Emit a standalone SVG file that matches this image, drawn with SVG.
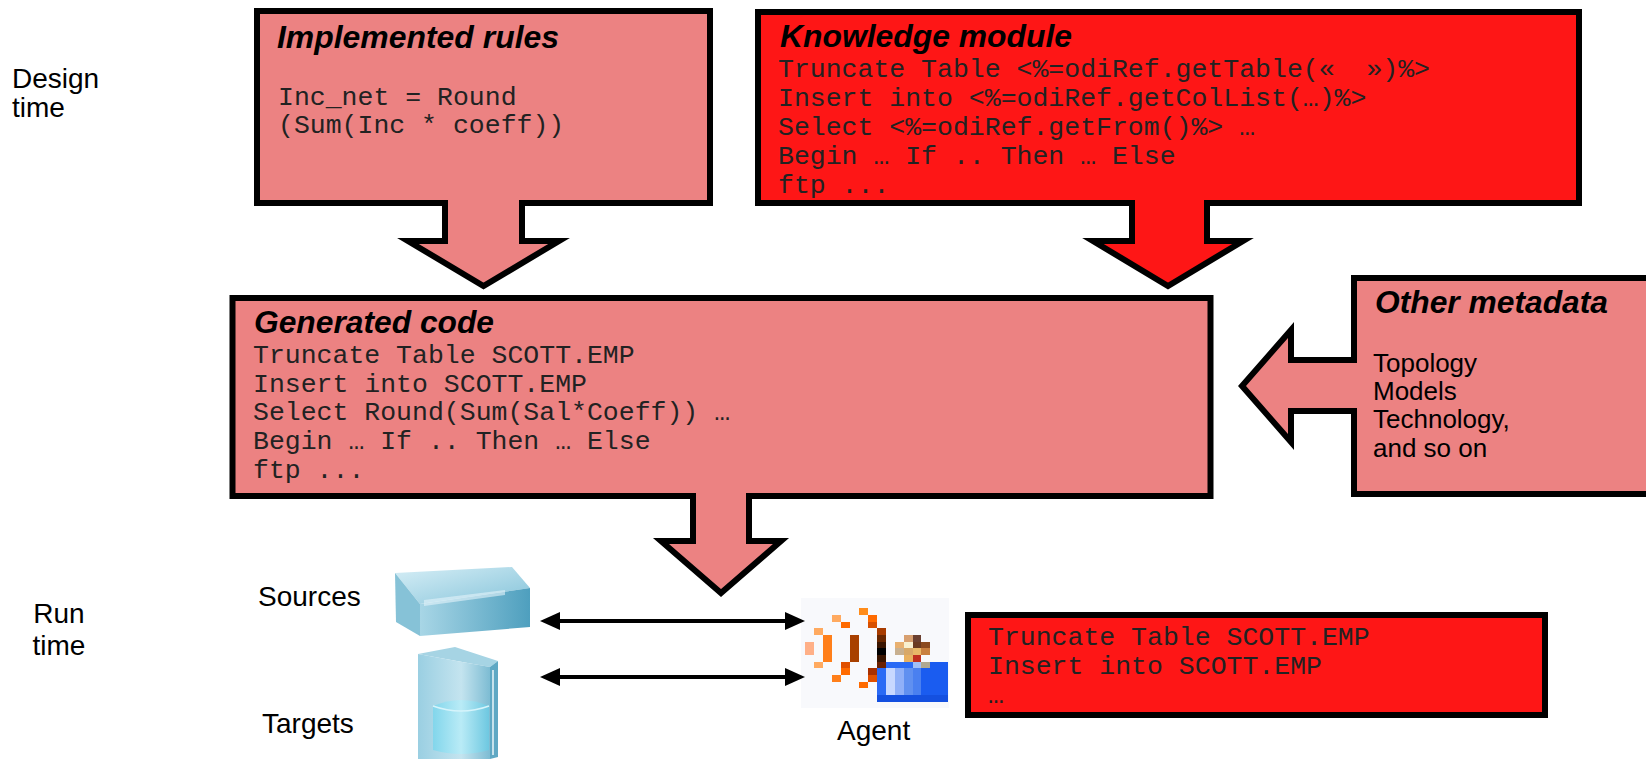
<svg xmlns="http://www.w3.org/2000/svg" width="1646" height="760" viewBox="0 0 1646 760">
  <defs>
    <style>
      .salmon { fill: #EC8282; stroke: #000; stroke-width: 6; stroke-linejoin: miter; stroke-miterlimit: 10; }
      .red { fill: #FE1616; stroke: #000; stroke-width: 6; stroke-linejoin: miter; stroke-miterlimit: 10; }
      .title { font-family: "Liberation Sans", Arial, sans-serif; font-weight: bold; font-style: italic; font-size: 31px; fill: #000; }
      .code { font-family: "Liberation Mono", "Courier New", monospace; font-size: 26.5px; fill: #222; white-space: pre; }
      .label { font-family: "Liberation Sans", Arial, sans-serif; font-size: 28px; fill: #000; }
      .body { font-family: "Liberation Sans", Arial, sans-serif; font-size: 26px; fill: #000; }
      .link { stroke: #000; stroke-width: 4; fill: none; marker-start: url(#head); marker-end: url(#head); }
    </style>
    <marker id="head" viewBox="0 0 20 18" refX="5" refY="9" markerWidth="20" markerHeight="18" markerUnits="userSpaceOnUse" orient="auto-start-reverse">
      <path d="M0,0 L20,9 L0,18 Z" fill="#000"/>
    </marker>
    <linearGradient id="slabTop" x1="0" y1="0" x2="1" y2="1">
      <stop offset="0" stop-color="#D6EEF6"/>
      <stop offset="1" stop-color="#86C4DA"/>
    </linearGradient>
    <linearGradient id="slabFront" x1="0" y1="0" x2="1" y2="0">
      <stop offset="0" stop-color="#A8D6E6"/>
      <stop offset="1" stop-color="#4E9FBE"/>
    </linearGradient>
    <linearGradient id="towerFront" x1="0" y1="0" x2="1" y2="0">
      <stop offset="0" stop-color="#9ACFE2"/>
      <stop offset="0.6" stop-color="#C4E4EF"/>
      <stop offset="1" stop-color="#7DBCD3"/>
    </linearGradient>
    <linearGradient id="drum" x1="0" y1="0" x2="1" y2="0">
      <stop offset="0" stop-color="#7ED6EC"/>
      <stop offset="0.5" stop-color="#B8ECF7"/>
      <stop offset="1" stop-color="#6CC9E2"/>
    </linearGradient>
  </defs>

  <rect width="1646" height="760" fill="#fff"/>

  <!-- side labels -->
  <g id="design-time">
    <text class="label" x="12" y="88">Design</text>
    <text class="label" x="12" y="117">time</text>
  </g>
  <g id="run-time">
    <text class="label" x="59" y="623" text-anchor="middle">Run</text>
    <text class="label" x="59" y="655" text-anchor="middle">time</text>
  </g>

  <!-- implemented rules: callout with down arrow -->
  <g id="implemented-rules">
    <path class="salmon" d="M257,11 H710 V203 H522 V241 H559 L483.5,286 L408,241 H445 V203 H257 Z"/>
    <text class="title" x="277" y="48" textLength="282" lengthAdjust="spacingAndGlyphs">Implemented rules</text>
    <text class="code" x="278" y="105">Inc_net = Round</text>
    <text class="code" x="278" y="133">(Sum(Inc * coeff))</text>
  </g>

  <!-- knowledge module: callout with down arrow -->
  <g id="knowledge-module">
    <path class="red" d="M758,12 H1579 V203 H1207 V241 H1243 L1168,286 L1093,241 H1132 V203 H758 Z"/>
    <text class="title" x="780" y="47" textLength="292" lengthAdjust="spacingAndGlyphs">Knowledge module</text>
    <text class="code" x="778" y="77">Truncate Table &lt;%=odiRef.getTable(«  »)%&gt;</text>
    <text class="code" x="778" y="106">Insert into &lt;%=odiRef.getColList(…)%&gt;</text>
    <text class="code" x="778" y="135">Select &lt;%=odiRef.getFrom()%&gt; …</text>
    <text class="code" x="778" y="164">Begin … If .. Then … Else</text>
    <text class="code" x="778" y="193">ftp ...</text>
  </g>

  <!-- generated code: callout with down arrow -->
  <g id="generated-code">
    <path class="salmon" d="M232.5,298 H1210.5 V496 H749 V541 H781 L721,593 L661,541 H693 V496 H232.5 Z"/>
    <text class="title" x="254" y="333" textLength="240" lengthAdjust="spacingAndGlyphs">Generated code</text>
    <text class="code" x="253" y="363">Truncate Table SCOTT.EMP</text>
    <text class="code" x="253" y="392">Insert into SCOTT.EMP</text>
    <text class="code" x="253" y="420">Select Round(Sum(Sal*Coeff)) …</text>
    <text class="code" x="253" y="449">Begin … If .. Then … Else</text>
    <text class="code" x="253" y="478">ftp ...</text>
  </g>

  <!-- other metadata: callout with left arrow -->
  <g id="other-metadata">
    <path class="salmon" d="M1354,278 H1660 V494 H1354 V411 H1291 V442 L1242,386 L1291,330 V360 H1354 Z"/>
    <text class="title" x="1375" y="313" textLength="233" lengthAdjust="spacingAndGlyphs">Other metadata</text>
    <text class="body" x="1373" y="372">Topology</text>
    <text class="body" x="1373" y="400">Models</text>
    <text class="body" x="1373" y="428">Technology,</text>
    <text class="body" x="1373" y="457">and so on</text>
  </g>

  <!-- sources: flat slab -->
  <g id="sources">
    <text class="label" x="258" y="606">Sources</text>
    <polygon points="395,573 512,567 530,588 420,604" fill="url(#slabTop)"/>
    <polygon points="395,573 420,604 420,636 396,622" fill="#86C2D7"/>
    <polygon points="420,604 530,588 530,627 420,636" fill="url(#slabFront)"/>
    <polygon points="424,600 505,590 505,595 424,606" fill="#E4F4FA" opacity="0.6"/>
  </g>

  <!-- targets: tower with drum -->
  <g id="targets">
    <text class="label" x="262" y="733">Targets</text>
    <polygon points="418,654 455,647 498,661 490,667" fill="#A6D4E4"/>
    <polygon points="418,654 490,667 490,759 418,759" fill="url(#towerFront)"/>
    <polygon points="490,667 498,661 498,757 490,759" fill="#5FA8C4"/>
    <line x1="493" y1="670" x2="493" y2="755" stroke="#EAF6FA" stroke-width="1.5"/>
    <path d="M433,706 Q461,694 489,706 V750 Q461,758 433,750 Z" fill="url(#drum)" opacity="0.9"/>
    <path d="M433,706 Q461,716 489,706" fill="none" stroke="#D6F4FB" stroke-width="1.5"/>
  </g>

  <!-- agent: pixel icon -->
  <g id="agent">
    <text class="label" x="837" y="740">Agent</text>
    <rect x="801" y="598" width="148" height="110" fill="#F8F9FC"/>
    <g transform="translate(805,608.3) scale(8.96,6.67)" shape-rendering="crispEdges">
      <rect x="6" y="0" width="1" height="1" fill="#FF8C1A"/>
      <rect x="3" y="1" width="1" height="1" fill="#FFAA60"/>
      <rect x="7" y="1" width="1" height="1" fill="#FF6A00"/>
      <rect x="4" y="2" width="1" height="1" fill="#FF6A00"/>
      <rect x="7" y="2" width="1" height="1" fill="#D85000"/>
      <rect x="1" y="3" width="1" height="1" fill="#FFAA60"/>
      <rect x="8" y="3" width="1" height="1" fill="#A83C00"/>
      <rect x="2" y="4" width="1" height="4" fill="#FF7F1A"/>
      <rect x="5" y="4" width="1" height="4" fill="#A84000"/>
      <rect x="0" y="5" width="1" height="2" fill="#FFB088"/>
      <rect x="8" y="4" width="1" height="1" fill="#6B2800"/>
      <rect x="8" y="5" width="1" height="1" fill="#3A1500"/>
      <rect x="8" y="6" width="1" height="1" fill="#000"/>
      <rect x="8" y="7" width="1" height="1" fill="#3A1500"/>
      <rect x="1" y="8" width="1" height="1" fill="#FFAA60"/>
      <rect x="4" y="8" width="1" height="1" fill="#E05000"/>
      <rect x="4" y="9" width="1" height="1" fill="#FF6A00"/>
      <rect x="7" y="9" width="1" height="1" fill="#A83000"/>
      <rect x="3" y="10" width="1" height="1" fill="#FF7F1A"/>
      <rect x="7" y="10" width="1" height="1" fill="#E05000"/>
      <rect x="6" y="11" width="1" height="1" fill="#FF6A00"/>
      <!-- person -->
      <rect x="11" y="4" width="1" height="1" fill="#D8A070"/>
      <rect x="12" y="4" width="1" height="1" fill="#6B4030"/>
      <rect x="10" y="5" width="1" height="1" fill="#E8B070"/>
      <rect x="11" y="5" width="1" height="1" fill="#F8F0D0"/>
      <rect x="12" y="5" width="1" height="1" fill="#6B3A20"/>
      <rect x="13" y="5" width="1" height="1" fill="#8B4A20"/>
      <rect x="10" y="6" width="1" height="1" fill="#C8B090"/>
      <rect x="11" y="6" width="1" height="1" fill="#D8A868"/>
      <rect x="12" y="6" width="1" height="1" fill="#E8B868"/>
      <rect x="13" y="6" width="1" height="1" fill="#C88040"/>
      <rect x="11" y="7" width="1" height="1" fill="#E8B060"/>
      <rect x="12" y="7" width="1" height="1" fill="#C03020"/>
      <rect x="8" y="8" width="1" height="1" fill="#6B2000"/>
      <rect x="9" y="8" width="3" height="1" fill="#2A6AF5"/>
      <rect x="12" y="8" width="1" height="1" fill="#A0C0F8"/>
      <rect x="13" y="8" width="1" height="1" fill="#B0A890"/>
      <rect x="14" y="8" width="2" height="1" fill="#1A5CF0"/>
      <rect x="8" y="9" width="8" height="5" fill="#1A5CF0"/>
      <rect x="8" y="9" width="1" height="5" fill="#2A6AF5"/>
      <rect x="9" y="9" width="1" height="4" fill="#C8D8FF"/>
      <rect x="10" y="9" width="1" height="4" fill="#90B0F8"/>
      <rect x="11" y="9" width="1" height="4" fill="#6090F0"/>
      <rect x="12" y="9" width="1" height="4" fill="#4A80F0"/>
      <rect x="8" y="13" width="8" height="1" fill="#1450E0"/>
    </g>
  </g>

  <!-- runtime code sent by the agent -->
  <g id="runtime-code">
    <rect class="red" x="968" y="615" width="577" height="100"/>
    <text class="code" x="988" y="645">Truncate Table SCOTT.EMP</text>
    <text class="code" x="988" y="674">Insert into SCOTT.EMP</text>
    <text class="code" x="988" y="703">…</text>
  </g>

  <!-- connectors between data stores and agent -->
  <g id="connectors">
    <line class="link" x1="555" y1="621" x2="790" y2="621"/>
    <line class="link" x1="555" y1="677" x2="790" y2="677"/>
  </g>
</svg>
